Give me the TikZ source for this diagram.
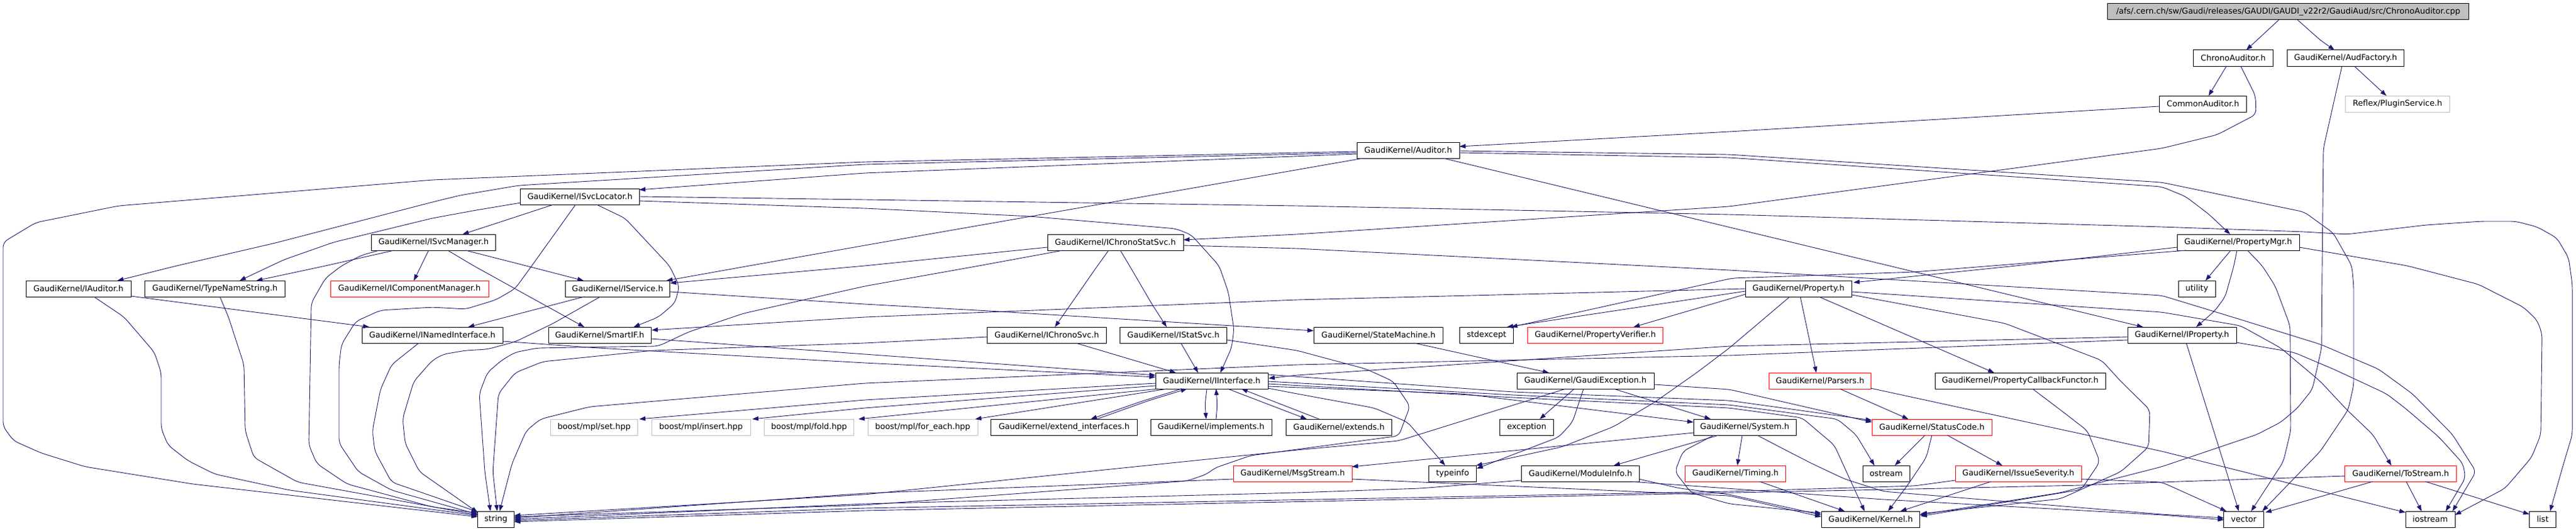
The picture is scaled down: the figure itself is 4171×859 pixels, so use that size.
\documentclass[tikz,border=0pt]{standalone}
\usepackage{fontspec}
\newfontfamily\gfont{DejaVu Sans}
\usetikzlibrary{arrows.meta}
\definecolor{mblue}{RGB}{25,25,112}
\definecolor{extgrey}{RGB}{191,191,191}
\begin{document}
\begin{tikzpicture}[x=1pt,y=-1pt,
  box/.style={draw=black, line width=1pt, inner sep=0pt, minimum height=26pt, font=\gfont\fontsize{13pt}{15pt}\selectfont, text=black},
  redb/.style={box, draw=red},
  extb/.style={box, draw=extgrey},
  rootb/.style={box, fill=extgrey},
  edg/.style={draw=mblue, line width=0.9pt, -{Triangle[length=10pt,width=7pt]}, rounded corners=8pt}]
\fill[white] (0,0) rectangle (4171,859);
\useasboundingbox (0,0) rectangle (4171,859);
% nodes
\node[rootb, minimum width=585pt] (root) at (3705,19) {/afs/.cern.ch/sw/Gaudi/releases/GAUDI/GAUDI\_v22r2/GaudiAud/src/ChronoAuditor.cpp};
\node[box, minimum width=129pt] (chr) at (3616,94) {ChronoAuditor.h};
\node[box, minimum width=189pt] (audf) at (3798,94) {GaudiKernel/AudFactory.h};
\node[box, minimum width=141pt] (com) at (3567,168) {CommonAuditor.h};
\node[extb, minimum width=169pt] (plug) at (3882,168) {Reflex/PluginService.h};
\node[box, minimum width=166pt] (aud) at (2280,243) {GaudiKernel/Auditor.h};
\node[box, minimum width=193pt] (svcloc) at (939,318) {GaudiKernel/ISvcLocator.h};
\node[box, minimum width=201pt] (svcman) at (702,392) {GaudiKernel/ISvcManager.h};
\node[box, minimum width=220pt] (chrstat) at (1806,392) {GaudiKernel/IChronoStatSvc.h};
\node[box, minimum width=198pt] (pmgr) at (3624,392) {GaudiKernel/PropertyMgr.h};
\node[box, minimum width=170pt] (iaud) at (127,467) {GaudiKernel/IAuditor.h};
\node[box, minimum width=227pt] (tns) at (348,467) {GaudiKernel/TypeNameString.h};
\node[redb, minimum width=256pt] (icm) at (663,467) {GaudiKernel/IComponentManager.h};
\node[box, minimum width=169pt] (isvc) at (1000,467) {GaudiKernel/IService.h};
\node[box, minimum width=172pt] (prop) at (2912,467) {GaudiKernel/Property.h};
\node[box, minimum width=60pt] (util) at (3557,467) {utility};
\node[box, minimum width=228pt] (inam) at (700,542) {GaudiKernel/INamedInterface.h};
\node[box, minimum width=166pt] (smart) at (971,542) {GaudiKernel/SmartIF.h};
\node[box, minimum width=193pt] (ichr) at (1695,542) {GaudiKernel/IChronoSvc.h};
\node[box, minimum width=173pt] (istat) at (1900,542) {GaudiKernel/IStatSvc.h};
\node[box, minimum width=209pt] (sm) at (2232,542) {GaudiKernel/StateMachine.h};
\node[box, minimum width=87pt] (stdex) at (2407,542) {stdexcept};
\node[redb, minimum width=219pt] (pver) at (2583,542) {GaudiKernel/PropertyVerifier.h};
\node[box, minimum width=176pt] (iprop) at (3533,542) {GaudiKernel/IProperty.h};
\node[box, minimum width=182pt] (iint) at (1962,616) {GaudiKernel/IInterface.h};
\node[box, minimum width=222pt] (gex) at (2567,616) {GaudiKernel/GaudiException.h};
\node[redb, minimum width=165pt] (pars) at (2947,616) {GaudiKernel/Parsers.h};
\node[box, minimum width=276pt] (pcf) at (3271,616) {GaudiKernel/PropertyCallbackFunctor.h};
\node[extb, minimum width=141pt] (bset) at (962,691) {boost/mpl/set.hpp};
\node[extb, minimum width=160pt] (bins) at (1135,691) {boost/mpl/insert.hpp};
\node[extb, minimum width=145pt] (bfold) at (1310,691) {boost/mpl/fold.hpp};
\node[extb, minimum width=178pt] (bfe) at (1494,691) {boost/mpl/for\_each.hpp};
\node[box, minimum width=237pt] (extif) at (1723,691) {GaudiKernel/extend\_interfaces.h};
\node[box, minimum width=196pt] (impl) at (1961,691) {GaudiKernel/implements.h};
\node[box, minimum width=171pt] (exts) at (2168,691) {GaudiKernel/extends.h};
\node[box, minimum width=87pt] (exc) at (2472,691) {exception};
\node[box, minimum width=166pt] (sys) at (2825,691) {GaudiKernel/System.h};
\node[redb, minimum width=194pt] (sc) at (3128,691) {GaudiKernel/StatusCode.h};
\node[redb, minimum width=192pt] (msg) at (2093,766) {GaudiKernel/MsgStream.h};
\node[box, minimum width=77pt] (tinfo) at (2352,766) {typeinfo};
\node[box, minimum width=191pt] (modi) at (2559,766) {GaudiKernel/ModuleInfo.h};
\node[redb, minimum width=163pt] (tim) at (2810,766) {GaudiKernel/Timing.h};
\node[box, minimum width=76pt] (ostr) at (3054,766) {ostream};
\node[redb, minimum width=204pt] (isev) at (3268,766) {GaudiKernel/IssueSeverity.h};
\node[redb, minimum width=181pt] (tos) at (3887,766) {GaudiKernel/ToStream.h};
\node[box, minimum width=59pt] (str) at (803,840) {string};
\node[box, minimum width=159pt] (kern) at (3029,840) {GaudiKernel/Kernel.h};
\node[box, minimum width=65pt] (vec) at (3633,840) {vector};
\node[box, minimum width=80pt] (ios) at (3935,840) {iostream};
\node[box, minimum width=43pt] (lst) at (4117,840) {list};
% edges
\draw[edg] ([shift={(-15,13)}]root.center) -- ([shift={(21,-13)}]chr.center);
\draw[edg] ([shift={(15,13)}]root.center) -- (3757,65) -- ([shift={(-18,-13)}]audf.center);
\draw[edg] ([shift={(-11,13)}]chr.center) -- ([shift={(9,-13)}]com.center);
\draw[edg] ([shift={(12,13)}]chr.center) -- (3652,155) -- (3653,185) -- (3590,218) -- (3500,240) -- (2800,334) -- (2100,379) -- ([shift={(110,-4)}]chrstat.center);
\draw[edg] ([shift={(-71,4)}]com.center) -- (2800,213) -- ([shift={(83,-6)}]aud.center);
\draw[edg] ([shift={(14,13)}]audf.center) -- ([shift={(-18,-13)}]plug.center);
\draw[edg] ([shift={(-6,13)}]audf.center) -- (3780,160) -- (3762,240) -- (3760,430) -- (3759,563) -- (3744,630) -- (3720,660) -- (3693,683) -- (3654,703) -- (3500,755) -- (3336,797) -- ([shift={(79,-7)}]kern.center);
% Auditor
\draw[edg] ([shift={(-83,2)}]aud.center) -- (1400,262) -- (700,291) -- (192,333) -- (58,360) -- (5,392) -- (5,690) -- (22,713) -- (67,733) -- (138,755) -- (312,783) -- ([shift={(-29.5,-4)}]str.center);
\draw[edg] ([shift={(-83,4)}]aud.center) -- (1400,266) -- (840,300) -- (745,316) -- (700,327) -- (446,393) -- (286,430) -- ([shift={(63,-13)}]iaud.center);
\draw[edg] ([shift={(-83,6)}]aud.center) -- (1400,280) -- ([shift={(96,-11)}]svcloc.center);
\draw[edg] ([shift={(-73,13)}]aud.center) -- (1400,397) -- (1213,430) -- ([shift={(79,-13)}]isvc.center);
\draw[edg] ([shift={(83,4)}]aud.center) -- (2800,255) -- (3500,302) -- (3539,318) -- (3577,347) -- ([shift={(-13,-13)}]pmgr.center);
\draw[edg] ([shift={(83,1)}]aud.center) -- (2800,250) -- (3500,295) -- (3731,343) -- (3778,377) -- (3808,430) -- (3811,463) -- (3811,623) -- (3802,663) -- (3757,730) -- ([shift={(30,-13)}]vec.center);
\draw[edg] ([shift={(57,13)}]aud.center) -- ([shift={(-63,-13)}]iprop.center);
% ISvcLocator
\draw[edg] ([shift={(-96,10)}]svcloc.center) -- (771,340) -- (700,353) -- (540,392) -- (460,420) -- ([shift={(40,-13)}]tns.center);
\draw[edg] ([shift={(-43,13)}]svcloc.center) -- ([shift={(47,-13)}]svcman.center);
\draw[edg] ([shift={(-7,13)}]svcloc.center) -- (861,430) -- (834,467) -- (803,485) -- (754,500) -- (700,497) -- (616,502) -- (576,520) -- (553,557) -- (549,590) -- (549,717) -- (580,763) -- (634,793) -- ([shift={(-29.5,-8)}]str.center);
\draw[edg] ([shift={(27,13)}]svcloc.center) -- (1012,353) -- (1084,430) -- (1100,463) -- (1093,490) -- (1066,513) -- ([shift={(55,-13)}]smart.center);
\draw[edg] ([shift={(96,7)}]svcloc.center) -- (1400,337) -- (1668,350) -- (1904,370) -- (1929,380) -- (1974,430) -- (1989,473) -- (1998,533) -- (1994,563) -- ([shift={(14,-13)}]iint.center);
\draw[edg] ([shift={(96,0)}]svcloc.center) -- (1400,323) -- (2100,333) -- (2800,347) -- (3500,367) -- (3731,375) -- (3800,379) -- (3928,364) -- (4018,358) -- (4073,358) -- (4108,367) -- (4140,385) -- (4159,417) -- (4165,460) -- (4165,703) -- (4150,753) -- ([shift={(12,-13)}]lst.center);
% ISvcManager
\draw[edg] ([shift={(-64,13)}]svcman.center) -- (527,430) -- ([shift={(67,-13)}]tns.center);
\draw[edg] ([shift={(-8,13)}]svcman.center) -- ([shift={(7,-13)}]icm.center);
\draw[edg] ([shift={(52,13)}]svcman.center) -- (852,430) -- ([shift={(-55,-13)}]isvc.center);
\draw[edg] ([shift={(23,13)}]svcman.center) -- (767,430) -- ([shift={(-25,-13)}]smart.center);
\draw[edg] ([shift={(-88,13)}]svcman.center) -- (585,413) -- (553,430) -- (527,450) -- (504,490) -- (500,720) -- (513,750) -- (562,783) -- (700,820) -- ([shift={(-29.5,-10)}]str.center);
% IChronoStatSvc
\draw[edg] ([shift={(-110,8)}]chrstat.center) -- (1400,430) -- ([shift={(85,-9)}]isvc.center);
\draw[edg] ([shift={(-85,13)}]chrstat.center) -- (1585,430) -- (1400,463) -- (1204,507) -- (1115,537) -- (1066,560) -- (870,563) -- (834,570) -- (812,583) -- (789,603) -- (776,637) -- (785,763) -- ([shift={(-9,-13)}]str.center);
\draw[edg] ([shift={(-11,13)}]chrstat.center) -- (1777,430) -- ([shift={(13,-13)}]ichr.center);
\draw[edg] ([shift={(8,13)}]chrstat.center) -- (1829,430) -- (1864,490) -- ([shift={(-11,-13)}]istat.center);
\draw[edg] ([shift={(110,5)}]chrstat.center) -- (2100,402) -- (2662,430) -- (2800,437) -- (3500,478) -- (3628,517) -- (3757,557) -- (3851,597) -- (3906,637) -- (3971,703) -- (4009,763) -- ([shift={(36,-13)}]ios.center);
% PropertyMgr
\draw[edg] ([shift={(-99,8)}]pmgr.center) -- (3264,430) -- ([shift={(89,-10)}]prop.center);
\draw[edg] ([shift={(-84,13)}]pmgr.center) -- (3100,440) -- (2805,450) -- ([shift={(40,-13)}]stdex.center);
\draw[edg] ([shift={(-12,13)}]pmgr.center) -- (3591,430) -- ([shift={(14,-13)}]util.center);
\draw[edg] ([shift={(-2,13)}]pmgr.center) -- (3617,430) -- (3603,480) -- (3586,503) -- ([shift={(23,-13)}]iprop.center);
\draw[edg] ([shift={(15,13)}]pmgr.center) -- (3663,430) -- (3684,463) -- (3708,527) -- (3709,697) -- (3697,747) -- ([shift={(12,-13)}]vec.center);
\draw[edg] ([shift={(99,8)}]pmgr.center) -- (3898,430) -- (4013,460) -- (4086,497) -- (4108,518) -- (4116,540) -- (4114,703) -- (4099,740) -- (4056,790) -- ([shift={(40,-7)}]ios.center);
% IAuditor, TypeNameString, IService, INamedInterface, SmartIF
\draw[edg] ([shift={(85,12)}]iaud.center) -- ([shift={(-102,-13)}]inam.center);
\draw[edg] ([shift={(25,13)}]iaud.center) -- (201,513) -- (250,570) -- (261,603) -- (261,693) -- (272,720) -- (304,745) -- (348,767) -- (469,793) -- ([shift={(-29.5,-6)}]str.center);
\draw[edg] ([shift={(8,13)}]tns.center) -- (370,513) -- (395,590) -- (397,697) -- (411,740) -- (482,780) -- ([shift={(-29.5,-7)}]str.center);
\draw[edg] ([shift={(-54,13)}]isvc.center) -- ([shift={(58,-13)}]inam.center);
\draw[edg] ([shift={(-28,13)}]isvc.center) -- (896,523) -- (834,553) -- (789,565) -- (754,567) -- (718,573) -- (700,583) -- (670,617) -- (652,677) -- (656,717) -- (679,763) -- ([shift={(-29.5,-11)}]str.center);
\draw[edg] ([shift={(85,5)}]isvc.center) -- (1400,492) -- (1601,503) -- ([shift={(-105,-7)}]sm.center);
\draw[edg] ([shift={(-22,13)}]inam.center) -- (634,590) -- (616,630) -- (603,697) -- (607,730) -- (634,780) -- ([shift={(-29.5,-12)}]str.center);
\draw[edg] ([shift={(114,10)}]inam.center) -- (968,563) -- (1400,587) -- ([shift={(-91,-6)}]iint.center);
\draw[edg] ([shift={(83,6)}]smart.center) -- (1400,573) -- ([shift={(-91,-9)}]iint.center);
% IChronoSvc, IStatSvc, StateMachine
\draw[edg] ([shift={(47,13)}]ichr.center) -- ([shift={(-58,-13)}]iint.center);
\draw[edg] ([shift={(-96,3)}]ichr.center) -- (1400,555) -- (1057,567) -- (879,585) -- (834,603) -- (807,637) -- (798,763) -- ([shift={(2,-13)}]str.center);
\draw[edg] ([shift={(12,13)}]istat.center) -- ([shift={(-22,-13)}]iint.center);
\draw[edg] ([shift={(87,8)}]istat.center) -- (2100,567) -- (2212,597) -- (2256,617) -- (2283,657) -- (2265,705) -- (2100,727) -- (2025,737) -- (1967,757) -- (1954,767) -- (1922,778) -- (1400,817) -- ([shift={(29.5,-4)}]str.center);
\draw[edg] ([shift={(58,13)}]sm.center) -- ([shift={(-59,-13)}]gex.center);
% IInterface
\draw[edg] ([shift={(-91,4)}]iint.center) -- (1400,647) -- ([shift={(73,-13)}]bset.center);
\draw[edg] ([shift={(-91,8)}]iint.center) -- (1400,660) -- ([shift={(83,-13)}]bins.center);
\draw[edg] ([shift={(-87,13)}]iint.center) -- ([shift={(80,-13)}]bfold.center);
\draw[edg] ([shift={(-72,13)}]iint.center) -- ([shift={(85,-13)}]bfe.center);
\draw[edg] ([shift={(-49,13)}]iint.center) -- (1846,650) -- ([shift={(43,-13)}]extif.center);
\draw[edg] ([shift={(53,-13)}]extif.center) -- (1860,648) -- ([shift={(-40,13)}]iint.center);
\draw[edg] ([shift={(-8,13)}]iint.center) -- (1951,655) -- ([shift={(-8,-13)}]impl.center);
\draw[edg] ([shift={(8,-13)}]impl.center) -- (1971,655) -- ([shift={(7,13)}]iint.center);
\draw[edg] ([shift={(26,13)}]iint.center) -- ([shift={(-52,-13)}]exts.center);
\draw[edg] ([shift={(-32,-13)}]exts.center) -- ([shift={(48,13)}]iint.center);
\draw[edg] ([shift={(91,-10)}]iint.center) -- (2450,634) -- (2800,648) -- ([shift={(-97,-11)}]sc.center);
\draw[edg] ([shift={(91,1)}]iint.center) -- (2450,639) -- (2800,655) -- (2975,678) -- (3005,703) -- ([shift={(-19,-13)}]ostr.center);
\draw[edg] ([shift={(91,5)}]iint.center) -- (2450,643) -- (2800,660) -- (2918,676) -- (2970,720) -- ([shift={(-10,-13)}]kern.center);
\draw[edg] ([shift={(91,9)}]iint.center) -- (2368,637) -- ([shift={(-83,-8)}]sys.center);
\draw[edg] ([shift={(91,12)}]iint.center) -- (2100,637) -- (2225,660) -- (2279,683) -- ([shift={(-12,-13)}]tinfo.center);
% GaudiException
\draw[edg] ([shift={(-18,13)}]gex.center) -- ([shift={(21,-13)}]exc.center);
\draw[edg] ([shift={(-3,13)}]gex.center) -- (2546,683) -- (2524,707) -- ([shift={(39,-8)}]tinfo.center);
\draw[edg] ([shift={(46,13)}]gex.center) -- ([shift={(-55,-13)}]sys.center);
\draw[edg] ([shift={(111,6)}]gex.center) -- (2800,630) -- ([shift={(-97,-8)}]sc.center);
\draw[edg] ([shift={(-32,13)}]gex.center) -- (2265,713) -- (2100,728) -- (1400,800) -- ([shift={(29.5,-6)}]str.center);
% System
\draw[edg] ([shift={(-4,13)}]sys.center) -- ([shift={(3,-13)}]tim.center);
\draw[edg] ([shift={(-42,13)}]sys.center) -- ([shift={(54,-13)}]modi.center);
\draw[edg] ([shift={(-50,13)}]sys.center) -- (2725,730) -- (2712,763) -- (2738,797) -- (2800,815) -- ([shift={(-80,-10)}]kern.center);
\draw[edg] ([shift={(20,13)}]sys.center) -- (2889,727) -- (2934,750) -- (2987,775) -- (3050,795) -- (3500,832) -- ([shift={(-32,-2)}]vec.center);
\draw[edg] ([shift={(-83,9)}]sys.center) -- ([shift={(96,-11)}]msg.center);
% Property
\draw[edg] ([shift={(-86,0)}]prop.center) -- (2100,485) -- (1400,513) -- ([shift={(84,-8)}]smart.center);
\draw[edg] ([shift={(-86,4)}]prop.center) -- ([shift={(33,-13)}]stdex.center);
\draw[edg] ([shift={(-86,9)}]prop.center) -- ([shift={(62,-13)}]pver.center);
\draw[edg] ([shift={(3,13)}]prop.center) -- ([shift={(-6,-13)}]pars.center);
\draw[edg] ([shift={(33,13)}]prop.center) -- ([shift={(-42,-13)}]pcf.center);
\draw[edg] ([shift={(-14,13)}]prop.center) -- (2800,563) -- (2747,603) -- (2680,650) -- (2613,690) -- (2529,723) -- ([shift={(38,-13)}]tinfo.center);
\draw[edg] ([shift={(87,5)}]prop.center) -- (3500,505) -- (3628,527) -- (3693,563) -- (3757,617) -- (3800,663) -- (3842,703) -- ([shift={(-15,-13)}]tos.center);
\draw[edg] ([shift={(87,10)}]prop.center) -- (3246,523) -- (3403,583) -- (3434,617) -- (3481,663) -- (3479,723) -- (3434,763) -- (3336,807) -- ([shift={(81,-9)}]kern.center);
% IProperty
\draw[edg] ([shift={(-88,3)}]iprop.center) -- (2800,560) -- (2100,607) -- ([shift={(92,-4)}]iint.center);
\draw[edg] ([shift={(-88,8)}]iprop.center) -- (2800,575) -- (2100,590) -- (1400,620) -- (955,658) -- (875,678) -- (852,697) -- (829,750) -- ([shift={(6,-13)}]str.center);
\draw[edg] ([shift={(7,13)}]iprop.center) -- ([shift={(-8,-13)}]vec.center);
\draw[edg] ([shift={(88,12)}]iprop.center) -- (3714,570) -- (3778,597) -- (3864,637) -- (3894,660) -- (3949,707) -- (3988,750) -- (3992,773) -- ([shift={(25,-13)}]ios.center);
% Parsers, PropertyCallbackFunctor
\draw[edg] ([shift={(32,13)}]pars.center) -- ([shift={(-38,-13)}]sc.center);
\draw[edg] ([shift={(82,12)}]pars.center) -- (3500,730) -- ([shift={(-40,-11)}]ios.center);
\draw[edg] ([shift={(20,13)}]pcf.center) -- (3336,663) -- (3380,697) -- (3400,747) -- (3370,792) -- ([shift={(81,-5)}]kern.center);
% StatusCode, IssueSeverity
\draw[edg] ([shift={(-11,13)}]sc.center) -- ([shift={(14,-13)}]ostr.center);
\draw[edg] ([shift={(25,13)}]sc.center) -- ([shift={(-26,-13)}]isev.center);
\draw[edg] ([shift={(0,13)}]sc.center) -- (3119,740) -- (3090,783) -- ([shift={(28,-13)}]kern.center);
\draw[edg] ([shift={(-44,13)}]isev.center) -- ([shift={(48,-13)}]kern.center);
\draw[edg] ([shift={(-102,11)}]isev.center) -- (3100,786) -- (2800,795) -- (1400,822) -- ([shift={(29.5,2)}]str.center);
\draw[edg] ([shift={(102,9)}]isev.center) -- (3500,780) -- ([shift={(-28,-13)}]vec.center);
% ModuleInfo, Timing, MsgStream
\draw[edg] ([shift={(95,9)}]modi.center) -- (2720,790) -- (2800,800) -- ([shift={(-80,-7)}]kern.center);
\draw[edg] ([shift={(-96,11)}]modi.center) -- (2300,790) -- (2100,797) -- (1400,815) -- ([shift={(29.5,0)}]str.center);
\draw[edg] ([shift={(81,13)}]modi.center) -- (3050,808) -- (3500,833) -- ([shift={(-32,1)}]vec.center);
\draw[edg] ([shift={(39,13)}]tim.center) -- ([shift={(-42,-13)}]kern.center);
\draw[edg] ([shift={(-96,9)}]msg.center) -- (1400,798) -- ([shift={(29.5,-2)}]str.center);
\draw[edg] ([shift={(96,9)}]msg.center) -- (2800,802) -- ([shift={(-80,-4)}]kern.center);
% ToStream
\draw[edg] ([shift={(-45,13)}]tos.center) -- ([shift={(35,-11)}]vec.center);
\draw[edg] ([shift={(9,13)}]tos.center) -- ([shift={(-14,-13)}]ios.center);
\draw[edg] ([shift={(40,13)}]tos.center) -- ([shift={(-21.5,-8)}]lst.center);
\draw[edg] ([shift={(-90,4)}]tos.center) -- (3500,780) -- (3370,785) -- (3100,791) -- (1400,826) -- ([shift={(29.5,4)}]str.center);
\end{tikzpicture}
\end{document}
